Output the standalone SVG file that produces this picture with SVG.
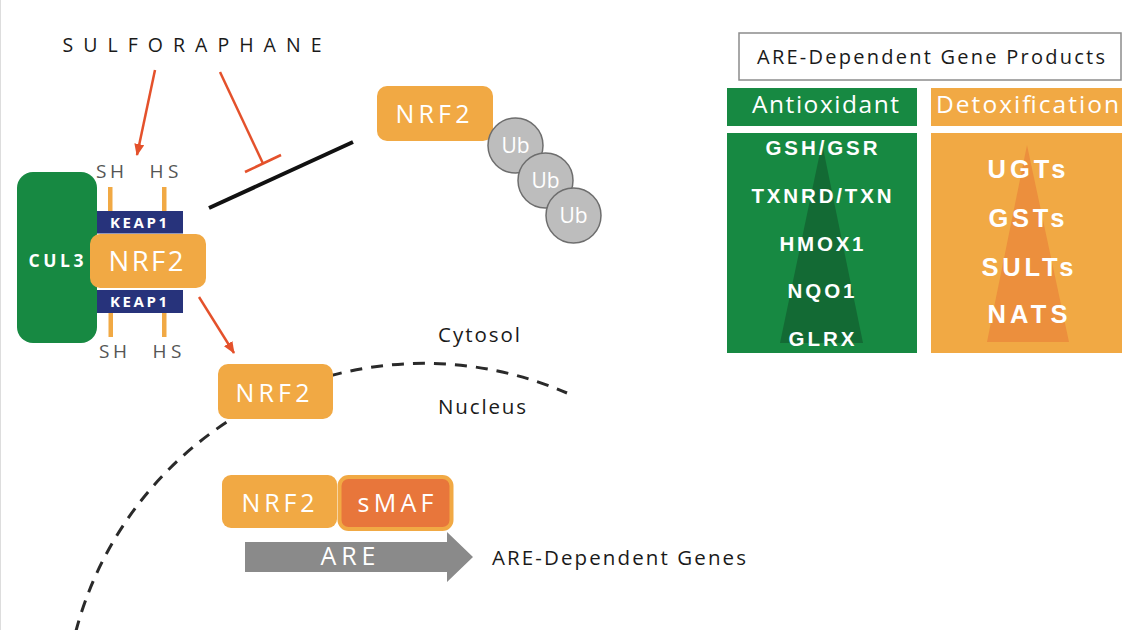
<svg xmlns="http://www.w3.org/2000/svg" width="1134" height="630" viewBox="0 0 1134 630">
<style>
.lbl{font-family:"Open Sans","Liberation Sans",sans-serif;fill:#1a1a1a}
.wt{font-family:"Open Sans","Liberation Sans",sans-serif;fill:#ffffff}
.bw{font-family:"Liberation Sans",Arial,sans-serif;font-weight:bold;fill:#ffffff}
.sh{font-family:"Open Sans","Liberation Sans",sans-serif;fill:#555555;font-size:19px}
.nrf{fill:#f1a944}
.red{stroke:#e4512b;stroke-width:2.5;fill:none}
.ub{fill:#bdbdbd;stroke:#6e6e6e;stroke-width:1.5}
.bar{fill:#f1a944}
.keap{fill:#27337b}
</style>
<defs>
<marker id="ah" viewBox="0 0 12 10" refX="11" refY="5" markerWidth="12" markerHeight="10" markerUnits="userSpaceOnUse" orient="auto">
<path d="M0,0 L12,5 L0,10 z" fill="#e4512b"/>
</marker>
</defs>
<rect x="0" y="0" width="1134" height="630" fill="#ffffff"/>
<line x1="0.5" y1="0" x2="0.5" y2="630" stroke="#dddddd" stroke-width="1"/>

<g id="connectors">
<path id="nucleus-membrane" d="M75.7,632 A360,360 0 0 1 567,393" fill="none" stroke="#2a2a2a" stroke-width="3" stroke-dasharray="12 9"/>
<line class="red" x1="155" y1="70" x2="137" y2="155" marker-end="url(#ah)"/>
<line class="red" x1="220" y1="72" x2="263" y2="163.5"/>
<line class="red" x1="245" y1="172" x2="281" y2="155"/>
<line x1="209" y1="208" x2="353" y2="142" stroke="#111111" stroke-width="4"/>
<line class="red" x1="199" y1="297" x2="234" y2="353" marker-end="url(#ah)"/>
</g>

<g id="sulforaphane">
<text class="lbl" x="62.5" y="52" font-size="19.5" textLength="259" lengthAdjust="spacing">SULFORAPHANE</text>
</g>

<g id="keap1-complex">
<rect x="17" y="172" width="80" height="171" rx="16" fill="#178942"/>
<text class="wt" x="28.5" y="267" font-size="17.5" font-weight="bold" textLength="55" lengthAdjust="spacing">CUL3</text>
<rect class="bar" x="108" y="187" width="4.5" height="25"/>
<rect class="bar" x="162" y="187" width="4.5" height="25"/>
<rect class="bar" x="108.5" y="312" width="4.5" height="25"/>
<rect class="bar" x="162" y="312" width="4.5" height="25"/>
<rect class="keap" x="97" y="211" width="86" height="22.5"/>
<rect class="keap" x="97" y="290" width="86" height="23"/>
<text class="wt" x="110" y="228" font-size="15" font-weight="bold" textLength="57" lengthAdjust="spacing">KEAP1</text>
<text class="wt" x="110" y="307" font-size="15" font-weight="bold" textLength="57" lengthAdjust="spacing">KEAP1</text>
<rect class="nrf" x="90" y="234" width="116" height="54" rx="10"/>
<text class="wt" x="108.5" y="271" font-size="27.5" textLength="75" lengthAdjust="spacing">NRF2</text>
<text class="sh" x="96" y="178" textLength="28" lengthAdjust="spacing">SH</text>
<text class="sh" x="149.5" y="178" textLength="29" lengthAdjust="spacing">HS</text>
<text class="sh" x="99" y="358" textLength="28" lengthAdjust="spacing">SH</text>
<text class="sh" x="152.5" y="358" textLength="29" lengthAdjust="spacing">HS</text>
</g>

<g id="nrf2-ubiquitinated">
<rect class="nrf" x="377" y="86" width="116" height="55" rx="10"/>
<text class="wt" x="395.5" y="123" font-size="25" textLength="74" lengthAdjust="spacing">NRF2</text>
<circle class="ub" cx="515.5" cy="145.5" r="27.5"/>
<text class="wt" x="515.5" y="153" font-size="21" text-anchor="middle">Ub</text>
<circle class="ub" cx="545.5" cy="180.5" r="27.5"/>
<text class="wt" x="545.5" y="188" font-size="21" text-anchor="middle">Ub</text>
<circle class="ub" cx="573.5" cy="215.5" r="27.5"/>
<text class="wt" x="573.5" y="223" font-size="21" text-anchor="middle">Ub</text>
</g>

<g id="nrf2-translocating">
<rect class="nrf" x="218" y="364" width="115" height="55" rx="10"/>
<text class="wt" x="235.5" y="402" font-size="25" textLength="74" lengthAdjust="spacing">NRF2</text>
</g>

<g id="compartment-labels">
<text class="lbl" x="438" y="342" font-size="20.5" textLength="82" lengthAdjust="spacing">Cytosol</text>
<text class="lbl" x="438" y="414" font-size="20.5" textLength="88" lengthAdjust="spacing">Nucleus</text>
</g>

<g id="nrf2-smaf">
<rect class="nrf" x="222" y="475" width="115" height="53" rx="9"/>
<text class="wt" x="241.5" y="512" font-size="25" textLength="73" lengthAdjust="spacing">NRF2</text>
<rect x="339.5" y="477" width="112" height="52" rx="9" fill="#e8763b" stroke="#f1a944" stroke-width="4"/>
<text class="wt" x="357.5" y="512" font-size="25" textLength="76" lengthAdjust="spacing">sMAF</text>
</g>

<g id="are">
<polygon points="245,542 447,542 447,532 473,557 447,582 447,572 245,572" fill="#8a8a8a"/>
<text class="wt" x="320.5" y="565" font-size="25" textLength="55" lengthAdjust="spacing">ARE</text>
<text class="lbl" x="492" y="565" font-size="20.5" textLength="254" lengthAdjust="spacing">ARE-Dependent Genes</text>
</g>

<g id="gene-products">
<rect x="739" y="33" width="382" height="47" fill="#ffffff" stroke="#8c8c8c" stroke-width="1.5"/>
<text class="lbl" x="757" y="64" font-size="20" textLength="348" lengthAdjust="spacing">ARE-Dependent Gene Products</text>
</g>

<g id="antioxidant">
<rect x="727" y="88" width="190" height="38" fill="#178942"/>
<text class="wt" x="752" y="113" font-size="24.5" textLength="147" lengthAdjust="spacing">Antioxidant</text>
<rect x="727" y="133" width="190" height="220" fill="#178942"/>
<polygon points="822,143 863,343 780,343" fill="#136a34"/>
<text class="bw" x="765.5" y="155" font-size="20.5" textLength="112" lengthAdjust="spacing">GSH/GSR</text>
<text class="bw" x="751.5" y="203" font-size="20.5" textLength="140" lengthAdjust="spacing">TXNRD/TXN</text>
<text class="bw" x="779.5" y="251" font-size="20.5" textLength="84" lengthAdjust="spacing">HMOX1</text>
<text class="bw" x="787.5" y="298" font-size="20.5" textLength="67" lengthAdjust="spacing">NQO1</text>
<text class="bw" x="788.5" y="346" font-size="20.5" textLength="66" lengthAdjust="spacing">GLRX</text>
</g>

<g id="detoxification">
<rect x="931" y="88" width="191" height="38" fill="#f1a944"/>
<text class="wt" x="936" y="113" font-size="24.5" textLength="183" lengthAdjust="spacing">Detoxification</text>
<rect x="931" y="133" width="191" height="220" fill="#f1a944"/>
<polygon points="1027,145 1069,342 987,342" fill="#ec8f3d"/>
<text class="bw" x="987.5" y="178" font-size="25.5" textLength="78" lengthAdjust="spacing">UGTs</text>
<text class="bw" x="988.5" y="227" font-size="25.5" textLength="76" lengthAdjust="spacing">GSTs</text>
<text class="bw" x="981.5" y="276" font-size="25.5" textLength="92" lengthAdjust="spacing">SULTs</text>
<text class="bw" x="987.5" y="323" font-size="25.5" textLength="80" lengthAdjust="spacing">NATS</text>
</g>
</svg>
